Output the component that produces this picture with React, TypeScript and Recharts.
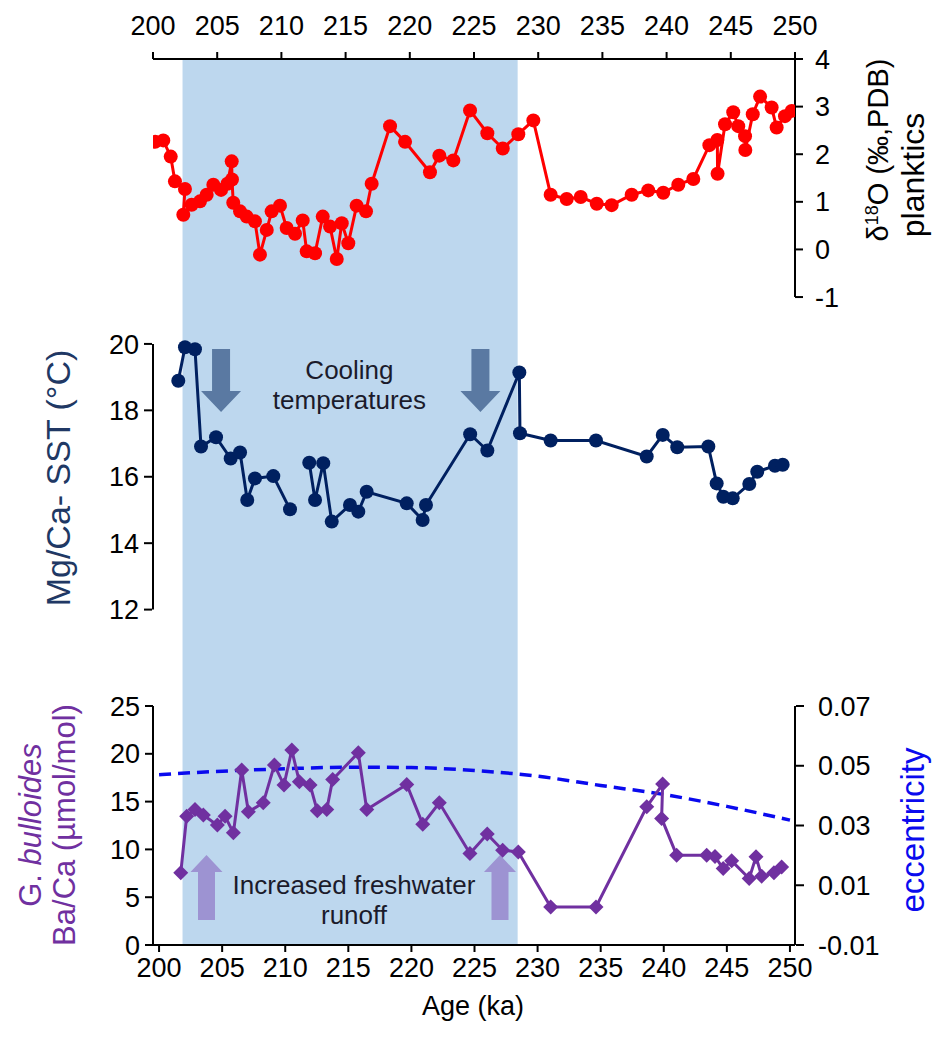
import React from "react";
import {
  LineChart,
  Line,
  XAxis,
  YAxis,
  ReferenceArea,
  ReferenceLine,
  ReferenceDot,
} from "recharts";

const FONT = "'Liberation Sans', Arial, sans-serif";
const RED = "#ff0000";
const NAVY = "#002060";
const PURPLE = "#7030a0";
const ECC_BLUE = "#0a0aee";
const SHADE = "#bdd7ee";

// axis ticks
const ageTicks = [200, 205, 210, 215, 220, 225, 230, 235, 240, 245, 250];
const d18oTicks = [-1, 0, 1, 2, 3, 4];
const sstTicks = [12, 14, 16, 18, 20];
const bacaTicks = [0, 5, 10, 15, 20, 25];
const eccTicks = [-0.01, 0.01, 0.03, 0.05, 0.07];

// shaded interval (ka)
const shadeAges = [202.3, 228.4];

// planktic d18O
const d18oAge = [
  200.16, 200.8, 201.38, 201.71, 202.49, 202.36, 203.01, 203.66, 204.18, 204.7,
  205.3, 205.8, 206.13, 206.15, 206.25, 206.78, 207.3, 207.94, 208.33, 208.86,
  209.24, 209.89, 210.41, 211.06, 211.66, 211.97, 212.62, 213.22, 213.79, 214.31,
  214.7, 215.21, 215.86, 216.59, 217.03, 218.46, 219.63, 221.57, 222.3, 223.39,
  224.69, 226.04, 227.24, 228.45, 229.62, 230.97, 232.22, 233.31, 234.56, 235.72,
  237.28, 238.57, 239.74, 240.91, 242.08, 243.33, 243.95, 243.97, 244.55, 245.19,
  245.58, 246.11, 246.13, 246.71, 247.28, 248.18, 248.57, 249.22, 249.74,
];
const d18oVal = [
  2.26, 2.29, 1.95, 1.43, 1.27, 0.73, 0.94, 1.01, 1.15, 1.36,
  1.25, 1.38, 1.85, 1.47, 0.98, 0.8, 0.69, 0.59, -0.11, 0.41,
  0.8, 0.92, 0.45, 0.33, 0.61, -0.04, -0.08, 0.69, 0.48, -0.2,
  0.55, 0.13, 0.92, 0.8, 1.38, 2.59, 2.26, 1.62, 1.97, 1.87,
  2.92, 2.44, 2.12, 2.42, 2.71, 1.15, 1.06, 1.1, 0.96, 0.93,
  1.15, 1.24, 1.19, 1.36, 1.48, 2.19, 2.3, 1.59, 2.63, 2.88,
  2.59, 2.38, 2.09, 2.84, 3.21, 2.98, 2.56, 2.8, 2.91,
];

// Mg/Ca SST (null = gap in record)
const sstAge = [
  201.97, 202.49, 203.27, 203.74, 204.91, 206.05, 206.78, 207.34, 207.94, 209.37,
  210.67, 211.4, 212.17, 212.62, 213.26, 213.92, 215.34, 215.99, 216.64, 219.76,
  221.0, 221.26, 224.7, 226.04, 228.53, 228.58, 230.97, 234.5, 238.45, 239.7,
  240.83, 243.25, 243.9, 244.42, 245.15, 246.44, 247.06, 248.44, 249.04,
];
const sstVal = [
  18.89, 19.9, 19.84, 16.91, 17.19, 16.55, 16.73, 15.3, 15.95, 16.02,
  15.02, null, 16.42, 15.3, 16.41, 14.65, 15.15, 14.95, 15.55, 15.2,
  14.7, 15.15, 17.28, 16.79, 19.14, 17.31, 17.09, 17.09, 16.61, 17.26,
  16.89, 16.91, 15.8, 15.4, 15.35, 15.78, 16.15, 16.33, 16.36,
];

// G. bulloides Ba/Ca
const bacaAge = [
  201.72, 202.19, 202.85, 203.51, 204.62, 205.23, 205.89, 206.55, 207.08, 208.26,
  209.14, 209.9, 210.52, 211.12, 211.97, 212.54, 213.29, 213.76, 215.79, 216.46,
  219.63, 220.9, 222.21, 224.64, 226.01, 227.23, 228.47, 231.04, 234.63, 238.65,
  239.91, 239.83, 241.02, 243.4, 244.06, 244.71, 245.38, 246.77, 247.31, 247.76,
  248.73, 249.34,
];
const bacaVal = [
  7.55, 13.48, 14.18, 13.59, 12.54, 13.48, 11.73, 18.3, 13.93, 14.87,
  18.82, 16.73, 20.39, 17.07, 16.73, 14.04, 14.18, 17.32, 20.11, 14.18,
  16.8, 12.64, 14.87, 9.58, 11.6, 9.92, 9.74, 3.98, 3.98, 14.46,
  16.83, 13.24, 9.4, 9.4, 9.25, 8.0, 8.8, 6.96, 9.22, 7.2,
  7.55, 8.17,
];

// orbital eccentricity
const eccAge = [200, 205, 210, 215, 220, 225, 230, 235, 240, 245, 250];
const eccVal = [0.047, 0.0482, 0.049, 0.0495, 0.0494, 0.0484, 0.0465, 0.0434, 0.0404, 0.0364, 0.0318];

const zip = (ages: number[], vals: (number | null)[]) =>
  ages.map((age, i) => ({ age, v: vals[i] }));

const d18oData = zip(d18oAge, d18oVal);
const sstData = zip(sstAge, sstVal);
const bacaData = zip(bacaAge, bacaVal);
const eccData = zip(eccAge, eccVal);

const tickStyle = { fill: "#000", fontSize: 27, fontFamily: FONT };
const axisStroke = { stroke: "#000", strokeWidth: 2 };

const Diamond = (p: any) => {
  const { cx, cy, index } = p;
  if (cx == null || cy == null) return <g key={index} />;
  const s = 7.5;
  return (
    <polygon
      key={index}
      points={`${cx},${cy - s} ${cx + s},${cy} ${cx},${cy + s} ${cx - s},${cy}`}
      fill={PURPLE}
    />
  );
};

const DownArrow = (p: any) => {
  const { cx, cy } = p;
  return (
    <polygon
      points={`${cx - 9},${cy} ${cx + 9},${cy} ${cx + 9},${cy + 42} ${cx + 20},${cy + 42} ${cx},${cy + 63} ${cx - 20},${cy + 42} ${cx - 9},${cy + 42}`}
      fill="#4f6f99"
      fillOpacity={0.9}
    />
  );
};

const UpArrow = (p: any) => {
  const { cx, cy } = p;
  return (
    <polygon
      points={`${cx},${cy} ${cx + 16},${cy + 17} ${cx + 8.5},${cy + 17} ${cx + 8.5},${cy + 65} ${cx - 8.5},${cy + 65} ${cx - 8.5},${cy + 17} ${cx - 16},${cy + 17}`}
      fill="#9d93d2"
    />
  );
};

const twoLine = (a: string, b: string) => (p: any) => {
  const { cx, cy } = p;
  return (
    <text x={cx} y={cy} textAnchor="middle" fontSize={26} fontFamily={FONT} fill="#1b1b2b">
      <tspan x={cx} dy={-5}>{a}</tspan>
      <tspan x={cx} dy={30}>{b}</tspan>
    </text>
  );
};

const rot = (left: number, top: number): React.CSSProperties => ({
  position: "absolute",
  left,
  top,
  transform: "translate(-50%, -50%) rotate(-90deg)",
  whiteSpace: "nowrap",
  fontFamily: FONT,
  lineHeight: 1,
});

export default function App() {
  return (
    <div style={{ position: "absolute", left: 0, top: 0, width: 934, height: 1045, background: "#fff" }}>
      <LineChart width={934} height={1045} margin={{ top: 19, right: 137, bottom: 50, left: 151 }}>
        <XAxis
          xAxisId="top"
          orientation="top"
          type="number"
          dataKey="age"
          domain={[200, 250]}
          ticks={ageTicks}
          allowDataOverflow
          height={40}
          tickSize={7}
          tickMargin={17}
          tick={tickStyle}
          axisLine={axisStroke}
          tickLine={axisStroke}
        />
        <XAxis
          xAxisId="bot"
          orientation="bottom"
          type="number"
          dataKey="age"
          domain={[199.52, 250.4]}
          ticks={ageTicks}
          allowDataOverflow
          height={50}
          tickSize={7}
          tickMargin={6}
          tick={tickStyle}
          axisLine={axisStroke}
          tickLine={axisStroke}
        />
        <YAxis
          yAxisId="d18o"
          orientation="right"
          type="number"
          domain={[-14.61, 4]}
          ticks={d18oTicks}
          allowDataOverflow
          width={1}
          tickSize={8}
          tickMargin={12}
          tick={tickStyle}
          axisLine={false}
          tickLine={axisStroke}
        />
        <YAxis
          yAxisId="ecc"
          orientation="right"
          type="number"
          domain={[-0.01, 0.2866]}
          ticks={eccTicks}
          tickFormatter={(v: number) => v.toFixed(2)}
          allowDataOverflow
          width={1}
          tickSize={8}
          tickMargin={14}
          tick={tickStyle}
          axisLine={false}
          tickLine={axisStroke}
        />
        <YAxis
          yAxisId="sst"
          orientation="left"
          type="number"
          domain={[1.9, 28.58]}
          ticks={sstTicks}
          allowDataOverflow
          width={1}
          tickSize={8}
          tickMargin={5}
          tick={tickStyle}
          axisLine={false}
          tickLine={axisStroke}
        />
        <YAxis
          yAxisId="baca"
          orientation="left"
          type="number"
          domain={[0, 92.68]}
          ticks={bacaTicks}
          allowDataOverflow
          width={1}
          tickSize={8}
          tickMargin={5}
          tick={tickStyle}
          axisLine={false}
          tickLine={axisStroke}
        />

        <ReferenceArea
          xAxisId="top"
          yAxisId="sst"
          x1={shadeAges[0]}
          x2={shadeAges[1]}
          fill={SHADE}
          fillOpacity={1}
          stroke="none"
        />

        {/* panel axis lines */}
        <ReferenceLine xAxisId="top" yAxisId="d18o" segment={[{ x: 250, y: -1 }, { x: 250, y: 4 }]} stroke="#000" strokeWidth={2} />
        <ReferenceLine xAxisId="top" yAxisId="sst" segment={[{ x: 200, y: 12 }, { x: 200, y: 20 }]} stroke="#000" strokeWidth={2} />
        <ReferenceLine xAxisId="top" yAxisId="baca" segment={[{ x: 200, y: 0 }, { x: 200, y: 25 }]} stroke="#000" strokeWidth={2} />
        <ReferenceLine xAxisId="top" yAxisId="ecc" segment={[{ x: 250, y: -0.01 }, { x: 250, y: 0.07 }]} stroke="#000" strokeWidth={2} />

        {/* annotations */}
        <ReferenceDot xAxisId="top" yAxisId="sst" x={205.3} y={19.85} shape={DownArrow} />
        <ReferenceDot xAxisId="top" yAxisId="sst" x={225.5} y={19.85} shape={DownArrow} />
        <ReferenceDot xAxisId="top" yAxisId="sst" x={215.3} y={18.8} shape={twoLine("Cooling", "temperatures")} />
        <ReferenceDot xAxisId="bot" yAxisId="baca" x={203.76} y={9.41} shape={UpArrow} />
        <ReferenceDot xAxisId="bot" yAxisId="baca" x={227.02} y={9.41} shape={UpArrow} />
        <ReferenceDot xAxisId="bot" yAxisId="baca" x={215.45} y={4.81} shape={twoLine("Increased freshwater", "runoff")} />

        <Line
          xAxisId="bot"
          yAxisId="ecc"
          data={eccData}
          dataKey="v"
          type="monotone"
          stroke={ECC_BLUE}
          strokeWidth={3.5}
          strokeDasharray="12 7"
          dot={false}
          isAnimationActive={false}
        />
        <Line
          xAxisId="top"
          yAxisId="d18o"
          data={d18oData}
          dataKey="v"
          type="linear"
          stroke={RED}
          strokeWidth={3}
          dot={{ r: 7, fill: RED, stroke: RED, strokeWidth: 0 }}
          isAnimationActive={false}
        />
        <Line
          xAxisId="top"
          yAxisId="sst"
          data={sstData}
          dataKey="v"
          type="linear"
          stroke={NAVY}
          strokeWidth={3}
          connectNulls={false}
          dot={{ r: 7, fill: NAVY, stroke: NAVY, strokeWidth: 0 }}
          isAnimationActive={false}
        />
        <Line
          xAxisId="bot"
          yAxisId="baca"
          data={bacaData}
          dataKey="v"
          type="linear"
          stroke={PURPLE}
          strokeWidth={3}
          dot={Diamond}
          isAnimationActive={false}
        />
      </LineChart>

      {/* axis titles */}
      <div style={{ ...rot(58, 478), fontSize: 34, color: "#203864" }}>Mg/Ca- SST (°C)</div>
      <div style={{ ...rot(30, 825), fontSize: 31, color: PURPLE }}>
        G. <i>bulloides</i>
      </div>
      <div style={{ ...rot(64, 825), fontSize: 31, color: PURPLE }}>Ba/Ca (µmol/mol)</div>
      <div style={{ ...rot(878, 150), fontSize: 29, color: "#000" }}>
        δ<sup style={{ fontSize: 18 }}>18</sup>O (‰,PDB)
      </div>
      <div style={{ ...rot(913, 175), fontSize: 32, color: "#000" }}>planktics</div>
      <div style={{ ...rot(912, 830), fontSize: 33, color: ECC_BLUE }}>eccentricity</div>
      <div
        style={{
          position: "absolute",
          left: 473,
          top: 1006,
          transform: "translate(-50%, -50%)",
          fontSize: 27,
          fontFamily: FONT,
          whiteSpace: "nowrap",
          color: "#000",
        }}
      >
        Age (ka)
      </div>
    </div>
  );
}
